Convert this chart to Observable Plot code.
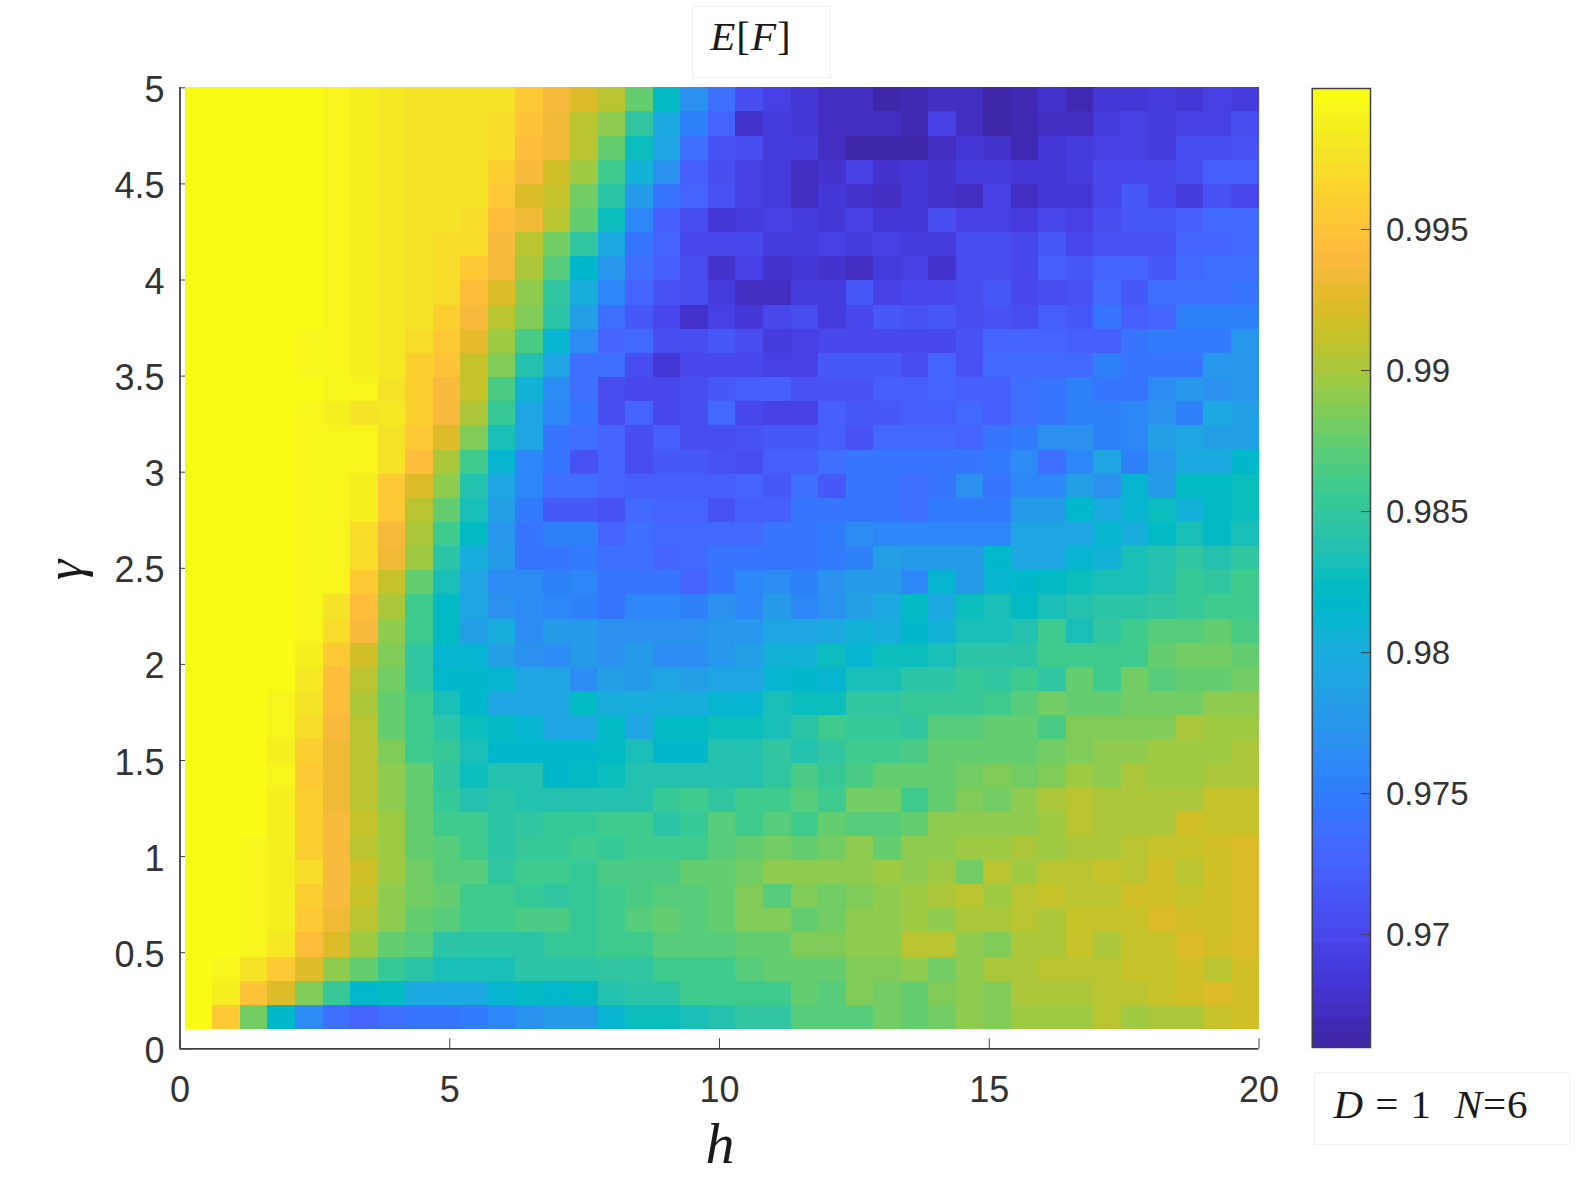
<!DOCTYPE html>
<html>
<head>
<meta charset="utf-8">
<script src="https://cdn.jsdelivr.net/npm/d3@7"></script>
<script src="https://cdn.jsdelivr.net/npm/@observablehq/plot@0.6"></script>
<style>
html,body{margin:0;padding:0;background:#fff;}
#page{position:relative;width:1578px;height:1183px;overflow:hidden;background:#fff;}
#page svg{position:absolute;top:0;background:transparent;}
.box{position:absolute;border:1px solid #f0f0f0;box-sizing:border-box;background:#fff;}
.math{position:absolute;font-family:"Liberation Serif",serif;color:#1a1a1a;white-space:nowrap;line-height:1;}
.math i{font-style:italic;}
</style>
</head>
<body>
<div id="page"></div>
<script>
// Colour levels (0-63 of the 64-step colormap), one row per gamma, top row first
const row00=[63,63,63,63,63,62,61,60,59,59,59,59,55,52,49,46,40,30,20,14,8,6,4,2,2,0,1,2,2,0,1,3,1,4,4,5,4,6,5];
const row01=[63,63,63,63,63,62,61,60,59,59,59,58,54,51,46,43,35,25,17,12,3,5,4,2,2,2,1,6,2,0,1,2,2,5,6,5,6,6,8];
const row02=[63,63,63,63,63,62,61,60,59,59,59,58,53,51,46,40,31,24,14,9,8,5,5,2,0,0,0,2,4,3,1,4,5,6,6,5,8,8,9];
const row03=[63,63,63,63,63,62,61,60,59,59,59,56,52,48,44,37,27,20,11,8,6,5,2,3,6,3,4,3,5,5,4,4,5,7,7,7,8,11,11];
const row04=[63,63,63,63,63,62,61,60,59,59,59,55,49,47,41,34,22,15,12,9,6,5,2,4,3,2,4,3,2,6,2,4,4,7,10,7,5,9,7];
const row05=[63,63,63,63,63,62,61,60,59,59,58,53,51,46,40,31,18,11,8,4,5,6,5,4,6,4,4,8,6,6,5,7,6,8,10,10,11,13,13];
const row06=[63,63,63,63,63,62,61,60,59,58,58,52,46,41,35,25,15,12,7,7,7,5,5,6,5,6,5,5,8,8,7,10,7,9,9,9,12,12,13];
const row07=[63,63,63,63,63,62,61,60,59,58,55,52,45,39,29,21,14,11,8,3,6,3,4,3,2,5,6,3,8,8,7,11,10,12,12,10,13,14,14];
const row08=[63,63,63,63,63,62,61,60,59,58,53,49,43,35,26,18,12,9,8,5,2,2,5,5,10,6,7,7,8,10,7,8,9,13,10,14,14,14,15];
const row09=[63,63,63,63,63,62,61,60,59,56,52,46,42,34,23,14,10,7,3,6,4,7,8,5,7,10,9,10,8,9,8,11,10,15,11,12,17,17,17];
const row10=[63,63,63,63,62,62,61,60,58,55,50,44,38,28,19,12,13,8,8,10,8,5,6,7,7,7,7,7,9,12,12,12,11,11,15,16,16,16,21];
const row11=[63,63,63,63,62,62,61,60,56,54,47,42,33,24,14,14,8,4,7,7,7,6,6,10,10,10,8,12,9,13,13,13,13,17,15,15,15,21,21];
const row12=[63,63,63,63,63,62,62,59,56,52,47,38,27,19,14,8,7,7,8,10,11,11,9,9,9,11,11,12,11,11,14,15,17,15,15,19,21,20,21];
const row13=[63,63,63,63,62,61,59,60,56,52,45,36,24,18,15,8,12,7,8,13,7,6,6,11,10,10,11,11,13,11,14,15,17,17,18,20,17,25,23];
const row14=[63,63,63,63,62,62,62,59,55,49,42,32,24,15,14,12,8,11,8,8,9,10,10,11,9,13,13,13,12,15,16,20,20,17,18,23,24,23,23];
const row15=[63,63,63,63,62,62,62,59,53,45,37,28,18,15,9,12,8,10,10,9,8,11,11,14,15,15,15,15,15,16,19,14,18,24,17,21,25,25,29];
const row16=[63,63,63,63,62,62,61,55,49,43,33,24,18,14,14,12,11,11,11,11,12,10,14,10,15,15,14,15,20,15,18,18,23,20,28,22,30,30,31];
const row17=[63,63,63,63,62,62,61,55,46,40,32,23,16,10,10,9,13,12,12,9,11,11,15,15,15,15,14,16,16,16,22,22,29,25,28,31,27,30,31];
const row18=[63,63,63,63,62,62,58,52,45,37,30,21,15,17,17,12,14,13,13,13,13,15,15,16,19,18,18,18,18,18,24,24,24,28,26,30,32,30,32];
const row19=[63,63,63,63,62,62,58,51,44,34,26,22,15,15,16,14,14,12,13,15,15,15,15,16,17,23,22,22,22,29,24,24,28,27,32,33,35,33,35];
const row20=[63,63,63,63,62,62,55,47,40,32,24,19,19,17,18,15,15,15,12,15,18,19,17,20,22,22,18,28,22,28,29,30,31,32,32,33,36,35,37];
const row21=[63,63,63,63,62,59,53,45,37,30,24,20,19,18,17,15,18,18,17,20,18,22,18,20,23,25,30,25,31,32,30,32,33,34,34,35,36,37,37];
const row22=[63,63,63,63,62,58,52,43,37,30,23,26,19,22,22,20,20,20,20,21,21,24,24,25,27,26,29,27,32,32,33,37,32,35,37,39,39,40,38];
const row23=[63,63,63,63,61,55,48,42,35,28,28,23,20,19,22,20,22,19,19,21,23,27,27,31,28,31,31,32,34,34,34,37,37,37,37,40,41,41,40];
const row24=[63,63,63,63,60,53,46,41,35,29,29,28,24,24,19,23,22,24,23,24,24,28,29,28,32,32,34,34,36,35,37,35,40,37,41,39,40,40,41];
const row25=[63,63,63,62,59,53,45,40,37,32,29,24,24,24,30,26,26,26,26,28,28,32,31,31,35,35,36,36,36,37,39,41,40,40,41,41,41,43,43];
const row26=[63,63,63,62,58,52,46,40,37,34,31,30,28,24,24,30,24,30,30,31,31,32,34,37,36,36,35,39,39,40,40,38,42,42,42,42,45,44,44];
const row27=[63,63,63,61,56,51,46,42,37,36,32,29,29,29,29,30,32,29,29,33,33,35,33,35,37,37,38,40,40,40,40,41,42,43,43,44,44,44,45];
const row28=[63,63,63,62,55,51,46,43,40,35,31,33,33,29,30,31,33,33,33,33,33,35,38,36,38,40,40,40,41,42,41,42,44,43,45,44,44,45,45];
const row29=[63,63,63,61,56,51,46,43,40,36,33,34,33,33,33,33,33,36,37,35,37,37,39,37,41,41,37,40,42,41,43,45,46,45,45,45,45,47,47];
const row30=[63,63,63,61,56,52,47,44,40,37,37,34,35,36,36,37,37,34,36,39,37,39,37,40,39,39,40,43,43,43,43,44,46,45,45,45,48,47,47];
const row31=[63,63,62,61,56,52,46,44,40,39,37,34,36,36,37,36,37,37,37,39,40,41,40,41,43,40,43,43,44,44,45,44,45,45,46,47,47,48,49];
const row32=[63,63,62,61,58,52,48,44,41,39,39,35,37,37,36,38,38,38,40,40,41,43,43,43,43,44,43,44,41,46,44,46,46,47,46,48,46,48,49];
const row33=[63,63,62,61,56,52,47,43,41,40,37,37,36,35,36,37,38,39,39,40,42,39,42,41,42,43,44,45,46,44,46,47,46,46,48,48,47,48,49];
const row34=[63,63,62,61,55,51,46,43,40,39,37,37,38,38,36,37,39,40,39,40,42,42,40,41,43,43,44,43,45,45,46,45,47,47,47,49,48,48,49];
const row35=[63,63,62,60,53,49,44,40,39,34,34,34,34,36,36,37,37,39,39,39,40,40,42,42,43,43,46,46,43,42,45,45,47,45,47,47,49,48,49];
const row36=[63,62,59,55,49,43,40,36,34,32,32,32,34,34,34,35,35,37,37,37,39,40,40,40,42,42,43,41,43,45,45,46,46,46,47,47,48,46,48];
const row37=[63,61,54,49,42,36,29,30,25,25,25,28,30,29,30,33,34,34,37,37,37,37,40,39,42,41,40,42,43,42,45,45,45,46,46,47,48,49,48];
const row38=[63,55,41,29,19,14,12,14,15,15,16,18,20,22,22,28,31,31,32,33,35,35,39,39,39,41,40,41,43,42,44,44,44,46,44,45,45,47,48];

const levelRows=[row00,row01,row02,row03,row04,row05,row06,row07,row08,row09,row10,row11,row12,row13,row14,row15,row16,row17,row18,row19,row20,row21,row22,row23,row24,row25,row26,row27,row28,row29,row30,row31,row32,row33,row34,row35,row36,row37,row38];

const xTicks=[0,5,10,15,20];
const yTicks=[0,0.5,1,1.5,2,2.5,3,3.5,4,4.5,5];
const barTicks=[0.97,0.975,0.98,0.985,0.99,0.995];
const hFirst=0.1, hLast=20, gammaFirst=0.1, gammaLast=5, nCells=39;
const vMin=0.966, vMax=1.0, nLevels=64;

const parulaRGB=[[.2422,.1504,.6603],[.2504,.165,.7076],[.2578,.1818,.7511],[.2647,.1978,.7952],[.2706,.2147,.8364],[.2751,.2342,.871],[.2783,.2559,.8991],[.2803,.2782,.9221],[.2813,.3006,.9414],[.281,.3228,.9579],[.2795,.3447,.9717],[.276,.3667,.9829],[.2699,.3892,.9906],[.2602,.4123,.9952],[.244,.4358,.9988],[.2206,.4603,.9973],[.1963,.4847,.9892],[.1834,.5074,.9798],[.1786,.5289,.9682],[.1764,.5499,.952],[.1687,.5703,.9359],[.154,.5902,.9218],[.146,.6091,.9079],[.138,.6276,.8973],[.1248,.6459,.8883],[.1113,.6635,.8763],[.0952,.6798,.8598],[.0689,.6948,.8394],[.0297,.7082,.8163],[.0036,.7203,.7917],[.0067,.7312,.766],[.0433,.7411,.7394],[.0964,.75,.712],[.1408,.7584,.6842],[.1717,.767,.6554],[.1938,.7758,.6251],[.2161,.7843,.5923],[.247,.7918,.5567],[.2906,.7973,.5188],[.3406,.8008,.4789],[.3909,.8029,.4354],[.4456,.8024,.3909],[.5044,.7993,.348],[.5616,.7942,.3045],[.6174,.7876,.2612],[.672,.7793,.2227],[.7242,.7698,.191],[.7738,.7598,.1646],[.8203,.7498,.1535],[.8634,.7406,.1596],[.9035,.733,.1774],[.9393,.7288,.21],[.9728,.7298,.2394],[.9956,.7434,.2371],[.997,.7659,.2199],[.9952,.7893,.2028],[.9892,.8136,.1885],[.9786,.8386,.1766],[.9676,.8639,.1643],[.961,.889,.1537],[.9597,.9135,.1423],[.9628,.9373,.1265],[.9691,.9606,.1064],[.9769,.9839,.0805]];

const parula=parulaRGB.map(([r,g,b])=>d3.rgb(r*255,g*255,b*255).formatHex());
const step=(vMax-vMin)/nLevels;
const thresholds=d3.range(1,nLevels).map(i=>vMin+i*step);
const colorScale={type:"threshold",domain:thresholds,range:parula};
const dx=(hLast-hFirst)/nCells, dy=(gammaLast-gammaFirst)/nCells;

const cells=[];
levelRows.forEach((row,r)=>{
  const j=nCells-1-r;
  row.forEach((lvl,i)=>{
    cells.push({x1:hFirst+i*dx,x2:hFirst+(i+1)*dx,y1:gammaFirst+j*dy,y2:gammaFirst+(j+1)*dy,value:vMin+(lvl+0.5)*step});
  });
});
const barCells=d3.range(nLevels).map(i=>({y1:vMin+i*step,y2:vMin+(i+1)*step,value:vMin+(i+0.5)*step}));

const axisColor="#404040";
const tickStyle={fontFamily:"'Liberation Sans',Arial,sans-serif",fontSize:36,color:"#333333",overflow:"visible"};
const blank=()=>"";

const main=Plot.plot({
  width:1290,height:1183,
  marginLeft:179.5,marginRight:31.5,marginTop:87.3,marginBottom:134.7,
  style:tickStyle,
  x:{domain:[0,20],label:null},
  y:{domain:[0,5],label:null},
  color:colorScale,
  marks:[
    Plot.axisX({ticks:xTicks,tickSize:-10,tickPadding:0,tickFormat:blank,stroke:axisColor,label:null}),
    Plot.axisY({ticks:yTicks,tickSize:-11,tickPadding:0,tickFormat:blank,stroke:axisColor,label:null}),
    Plot.axisX({ticks:xTicks,tickSize:0,tickPadding:28,tickFormat:d=>String(d),fill:"#333333",label:null}),
    Plot.axisY({ticks:yTicks,tickSize:0,tickPadding:15.5,dy:2.5,tickFormat:d=>String(d),fill:"#333333",label:null}),
    Plot.rect(cells,{x1:"x1",x2:"x2",y1:"y1",y2:"y2",fill:"value",shapeRendering:"crispEdges"}),
    Plot.ruleX([0],{stroke:axisColor,strokeWidth:1.8}),
    Plot.ruleY([0],{stroke:axisColor,strokeWidth:1.8})
  ]
});
main.style.left="0px";

const bar=Plot.plot({
  width:288,height:1183,
  marginLeft:21.7,marginRight:208,marginTop:88,marginBottom:136,
  style:{...tickStyle,fontSize:33},
  x:{domain:[0,1],axis:null},
  y:{domain:[vMin,vMax],label:null},
  color:colorScale,
  marks:[
    Plot.rect(barCells,{x1:0,x2:1,y1:"y1",y2:"y2",fill:"value",shapeRendering:"crispEdges"}),
    Plot.axisY({anchor:"right",ticks:barTicks,tickSize:-10,tickPadding:0,tickFormat:blank,stroke:axisColor,label:null}),
    Plot.axisY({anchor:"right",ticks:barTicks,tickSize:0,tickPadding:15.5,dy:1,tickFormat:d3.format(".3~f"),fill:"#333333",label:null}),
    Plot.frame({stroke:axisColor,strokeWidth:1.5})
  ]
});
bar.style.left="1290px";

const page=document.getElementById("page");
page.append(main,bar);

function addBox(l,t,w,h){const d=document.createElement("div");d.className="box";d.style.cssText=`left:${l}px;top:${t}px;width:${w}px;height:${h}px;`;page.append(d);}
function addMath(html,cx,cy,size,rot,ls){const d=document.createElement("div");d.className="math";d.innerHTML=html;d.style.cssText=`left:${cx}px;top:${cy}px;font-size:${size}px;letter-spacing:${ls||0}px;transform:translate(-50%,-50%)${rot?` rotate(${rot}deg)`:""};`;page.append(d);}

addBox(692,6,139,72);
addMath("<i>E</i>[<i>F</i>]",751,36,41,0,1);
addBox(1314,1072,256,73);
addMath("<i>D</i> = 1 &nbsp;<i>N</i>=6",1431,1104,41,0,1);
addMath("<i>h</i>",720,1144,58);
addMath("<i>γ</i>",65,570,52,-90);
</script>
</body>
</html>
